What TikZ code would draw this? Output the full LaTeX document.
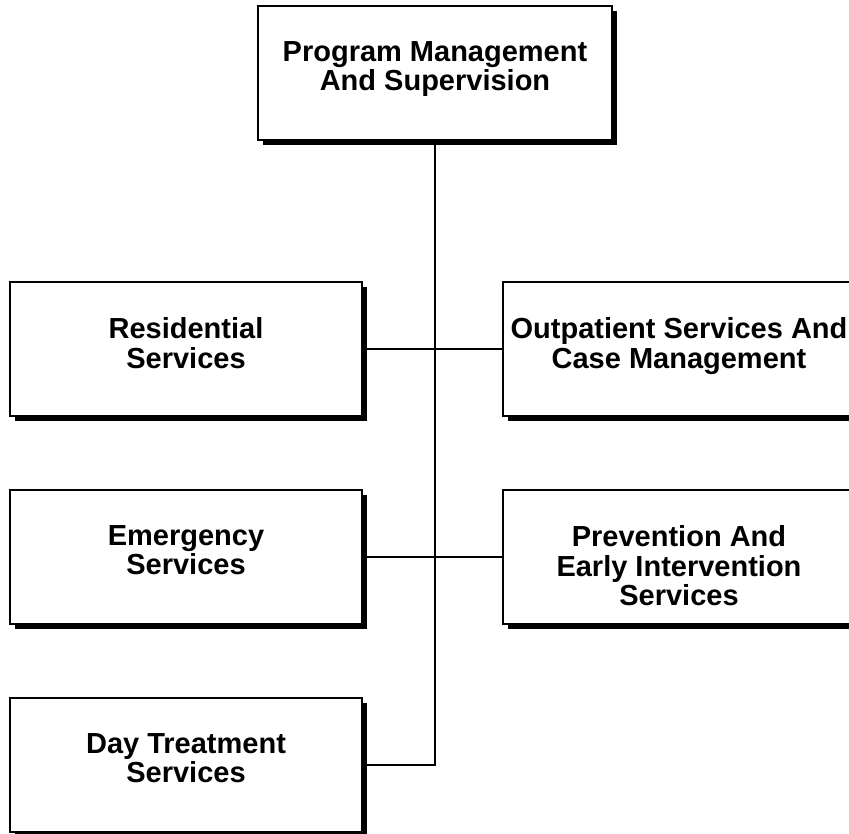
\documentclass[tikz,border=0pt]{standalone}
\usepackage{fontspec}
\setmainfont{Liberation Sans}
\usetikzlibrary{shadows}
\tikzset{>=latex}
\tikzset{
  unit/.style={draw, line width=1.4pt, fill=white, minimum width=352pt,
    minimum height=134pt, inner sep=0pt,
    drop shadow={shadow xshift=5pt, shadow yshift=-5pt, fill=black, opacity=1}},
  unittext/.style={anchor=north, align=center, inner sep=0pt,
    font=\bfseries\fontsize{29}{29.5}\selectfont},
  link/.style={line width=1.2pt}
}

\begin{document}
\begin{tikzpicture}[x=1pt, y=-1pt]
      \useasboundingbox (0,0) rectangle (849,834);
      % connectors
      \coordinate (bend) at (435,765);
      \node[unit, minimum width=354pt] (prog) at (435,73) {};
      \node[unit] (resi) at (186,349) {};
      \node[unit] (outp) at (679,349) {};
      \node[unit] (emer) at (186,557) {};
      \node[unit] (prev) at (679,557) {};
      \node[unit] (day) at (186,765) {};
      \draw[link] (prog.south) -- (bend) -- (day.east);
      \draw[link] (resi.east) -- (outp.west);
      \draw[link] (emer.east) -- (prev.west);
      % texts
      \node[unittext] (prog-t) at ([yshift=-36pt]prog.north) {Program Management\\And Supervision};
      \node[unittext] (resi-t) at ([yshift=-36pt]resi.north) {Residential\\Services};
      \node[unittext] (outp-t) at ([yshift=-36pt]outp.north) {Outpatient Services And\\Case Management};
      \node[unittext] (emer-t) at ([yshift=-36pt]emer.north) {Emergency\\Services};
      \node[unittext] (prev-t) at ([yshift=-36pt]prev.north) {Prevention And\\Early Intervention\\Services};
      \node[unittext] (day-t) at ([yshift=-36pt]day.north) {Day Treatment\\Services};
    \end{tikzpicture}
\end{document}
